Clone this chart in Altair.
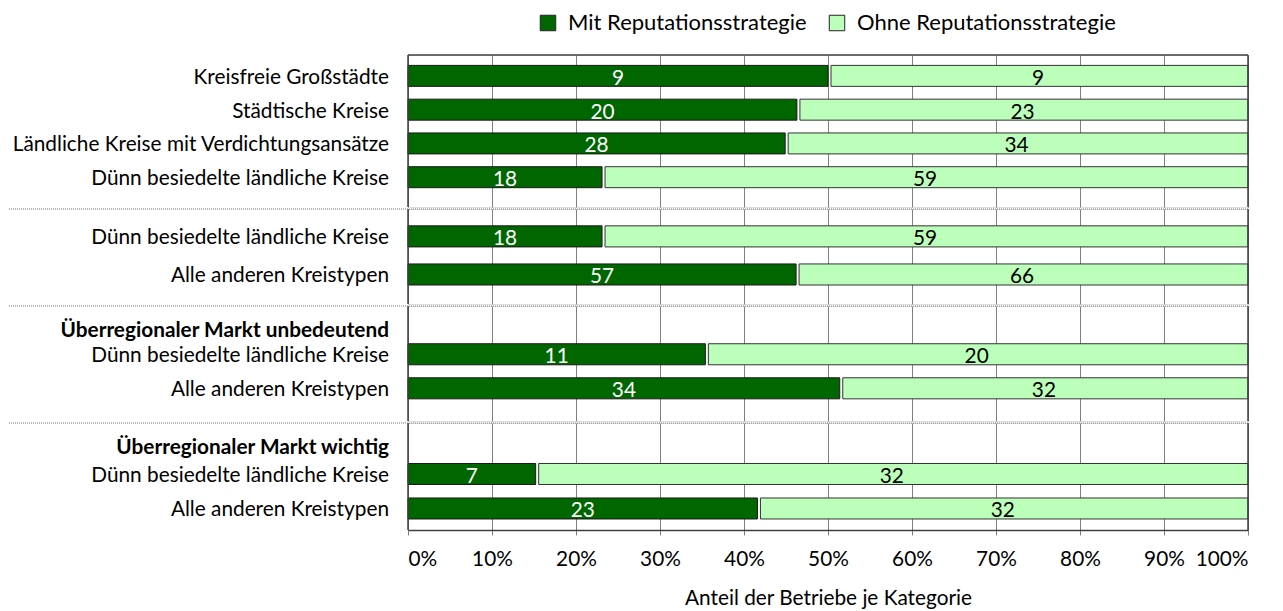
import altair as alt
import pandas as pd

FONT = "Lato"
FS = 20.8
FS_LEG = 22

# ---------------- data ----------------
panel_ids = [1, 1, 1, 1, 2, 2, 3, 3, 4, 4]
row_labels = [
    "Kreisfreie Großstädte",
    "Städtische Kreise",
    "Ländliche Kreise mit Verdichtungsansätze",
    "Dünn besiedelte ländliche Kreise",
    "Dünn besiedelte ländliche Kreise",
    "Alle anderen Kreistypen",
    "Dünn besiedelte ländliche Kreise",
    "Alle anderen Kreistypen",
    "Dünn besiedelte ländliche Kreise",
    "Alle anderen Kreistypen",
]
mit_counts = [9, 20, 28, 18, 18, 57, 11, 34, 7, 23]
ohne_counts = [9, 23, 34, 59, 59, 66, 20, 32, 32, 32]
mit_share = [50.0, 46.3, 44.9, 23.1, 23.1, 46.2, 35.4, 51.4, 15.2, 41.6]
group_headers = ["", "", "Überregionaler Markt unbedeutend", "Überregionaler Markt wichtig"]
series = ["Mit Reputationsstrategie", "Ohne Reputationsstrategie"]
colors = ["#006600", "#BBFFBB"]
x_ticks = [0, 10, 20, 30, 40, 50, 60, 70, 80, 90, 100]
x_title = "Anteil der Betriebe je Kategorie"

df = pd.DataFrame({
    "panel": panel_ids,
    "row": list(range(len(row_labels))),
    "label": row_labels,
    "mit": mit_counts,
    "ohne": ohne_counts,
    "share": mit_share,
    "s_mit": [series[0]] * len(row_labels),
    "s_ohne": [series[1]] * len(row_labels),
})

# ---------------- layout ----------------
W = 840
panel_layout = [  # height, paddingInner, paddingOuter, align
    (152, 0.379, 0.44, 0.35),
    (95, 0.447, 0.47, 0.47),
    (115, 0.382, 0.88, 0.63),
    (107, 0.391, 0.747, 0.786),
]
FRAME = "#404040"
GRID = "#7f7f7f"

cscale = alt.Scale(domain=series, range=colors)
legend = alt.Legend(
    orient="none", legendX=129, legendY=-43, direction="horizontal", title=None,
    symbolType="square", symbolSize=240, symbolStrokeColor="#222", symbolStrokeWidth=1,
    labelFont=FONT, labelFontSize=FS_LEG, labelColor="#000", labelOffset=9, columnPadding=19,
    labelLimit=0,
)
xscale = alt.Scale(domain=[0, 100], nice=False)


def one():
    return alt.Chart(alt.Data(values=[{"k": 0}]))


def make_panel(i):
    p = i + 1
    h, pi, po, al = panel_layout[i]
    last = (i == len(panel_layout) - 1)
    if last:
        xaxis = alt.Axis(values=x_ticks, labelExpr="datum.value + '%'", grid=True, gridColor=GRID,
                         gridWidth=1, tickSize=5, tickColor=GRID, domainColor=FRAME, domainWidth=1.5,
                         labelPadding=14, labelFont=FONT, labelFontSize=FS, labelColor="#000",
                         title=x_title, titleFont=FONT, titleFontSize=FS, titleFontWeight="normal",
                         titleColor="#000", titlePadding=20)
    else:
        xaxis = alt.Axis(values=x_ticks, labels=False, ticks=False, domain=False, title=None,
                         grid=True, gridColor=GRID, gridWidth=1)
    base = alt.Chart(df).transform_filter(f"datum.panel == {p}").transform_calculate(
        mid_dark="datum.share / 2", mid_light="(datum.share + 100) / 2")
    yenc = alt.Y("row:O", axis=None, scale=alt.Scale(paddingInner=pi, paddingOuter=po, align=al))

    dark = base.mark_bar(stroke="#1a1a1a", strokeWidth=1).encode(
        x=alt.X("share:Q", scale=xscale, axis=xaxis),
        x2=alt.datum(0),
        y=yenc,
        color=alt.Color("s_mit:N", scale=cscale, legend=legend),
    )
    light = base.mark_bar(stroke="#333", strokeWidth=1, xOffset=3).encode(
        x=alt.X("share:Q", scale=xscale, axis=xaxis),
        x2=alt.datum(100),
        y=yenc,
        color=alt.Color("s_ohne:N", scale=cscale, legend=legend),
    )
    t_dark = base.mark_text(font=FONT, fontSize=FS, color="white", baseline="middle", dy=3).encode(
        x=alt.X("mid_dark:Q", scale=xscale), y=yenc, text="mit:Q")
    t_light = base.mark_text(font=FONT, fontSize=FS, color="black", baseline="middle", dy=3).encode(
        x=alt.X("mid_light:Q", scale=xscale), y=yenc, text="ohne:Q")
    names = base.mark_text(font=FONT, fontSize=FS, color="black", align="right", baseline="middle",
                           dy=2).encode(x=alt.value(-19), y=yenc, text="label:N")
    left = one().mark_rule(color=FRAME, strokeWidth=1.5).encode(
        x=alt.value(0), y=alt.value(0), y2=alt.value(h))
    right = one().mark_rule(color=FRAME, strokeWidth=1.5).encode(
        x=alt.value(W), y=alt.value(0), y2=alt.value(h))
    layers = [dark, light, t_dark, t_light, names, left, right]
    if i == 0:
        layers.append(one().mark_rule(color=FRAME, strokeWidth=1.5).encode(
            x=alt.value(0), x2=alt.value(W), y=alt.value(0)))
        layers.append(one().mark_rule(color="white", strokeWidth=1).encode(
            x=alt.value(-399), x2=alt.value(-300), y=alt.value(0)))
    else:
        layers.append(one().mark_rule(color="#777", strokeWidth=1, strokeDash=[1, 1]).encode(
            x=alt.value(-399), x2=alt.value(W), y=alt.value(0)))
    if group_headers[i]:
        hdr = alt.Chart(pd.DataFrame({"t": [group_headers[i]]})).mark_text(
            font=FONT, fontSize=FS, fontWeight="bold", color="black", align="right",
            baseline="middle").encode(x=alt.value(-19), y=alt.value(25), text="t:N")
        layers.append(hdr)
    return alt.layer(*layers).properties(width=W, height=h)


chart = alt.vconcat(*[make_panel(i) for i in range(4)], spacing=-5.2).resolve_scale(
    color="shared").configure_view(stroke=None).configure(font=FONT).properties(
    padding={"left": 0, "top": 4, "right": 0, "bottom": 0})

chart.save("out.html", embed_options={"renderer": "svg", "actions": False})
